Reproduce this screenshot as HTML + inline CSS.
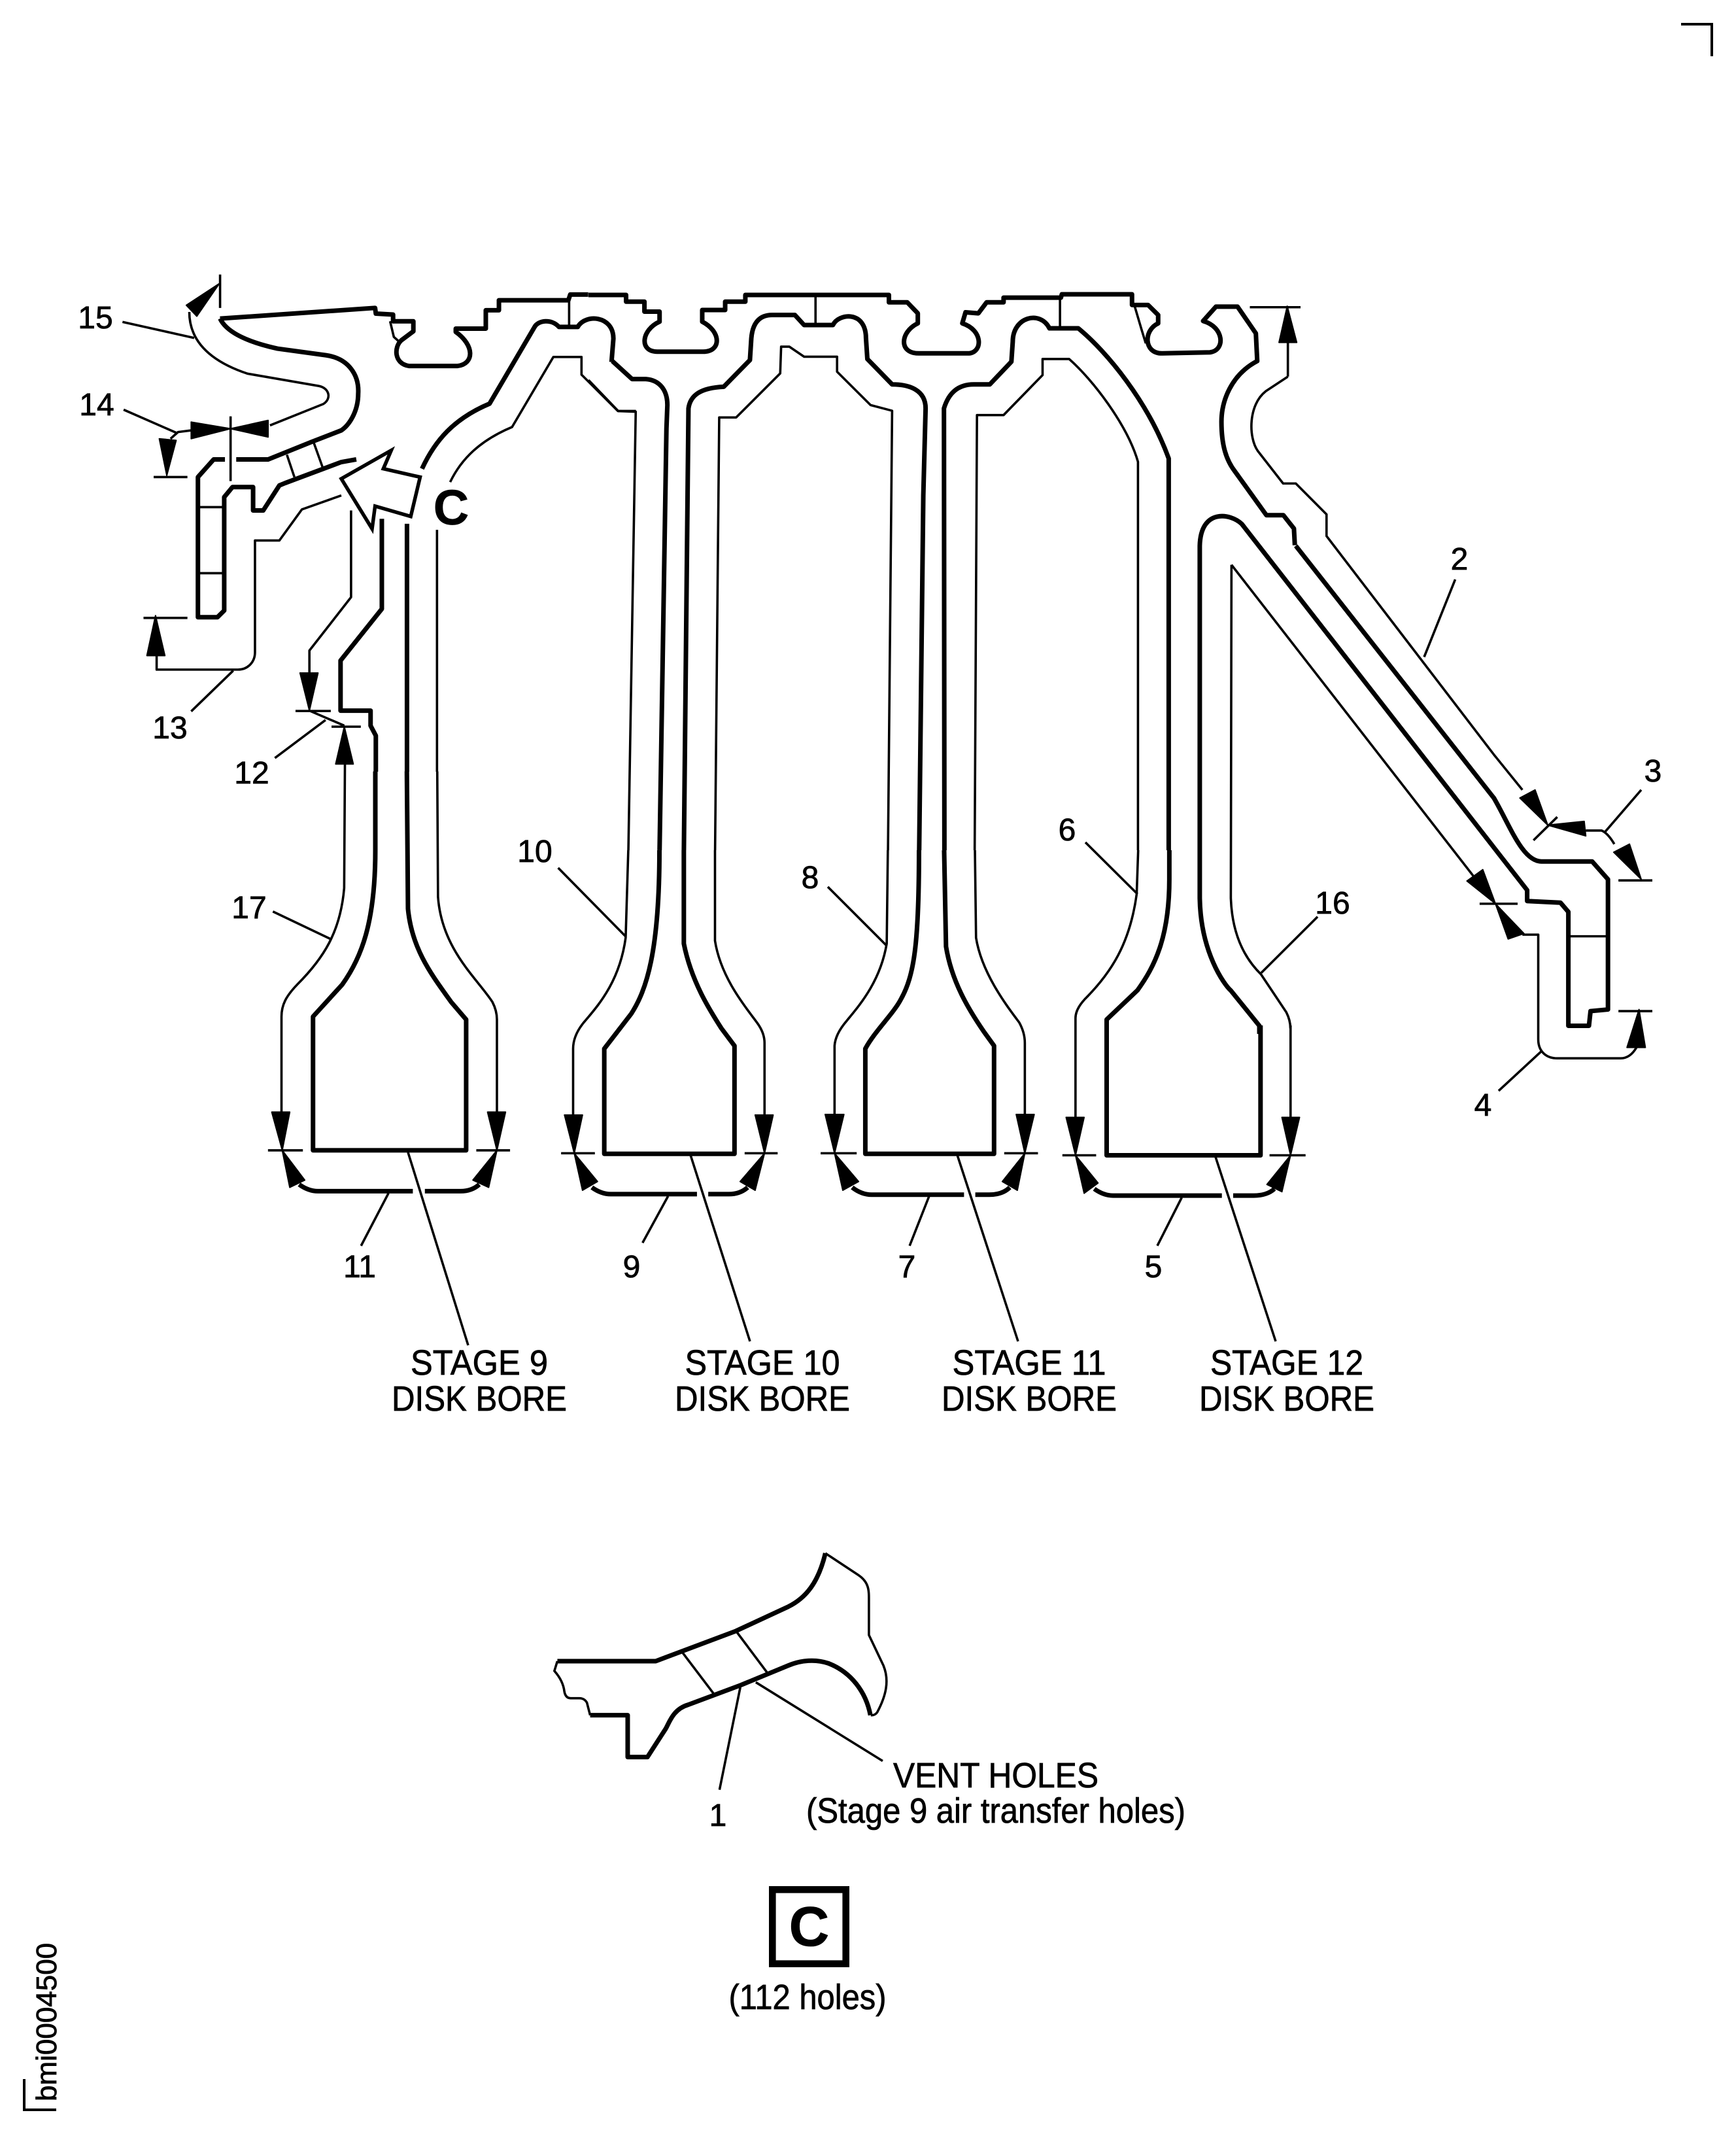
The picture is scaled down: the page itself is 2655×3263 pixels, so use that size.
<!DOCTYPE html>
<html><head><meta charset="utf-8"><title>Stage 9 air transfer diagram</title>
<style>
html,body{margin:0;padding:0;background:#fff;width:2655px;height:3263px;overflow:hidden}
svg{display:block}
path{vector-effect:non-scaling-stroke;fill:none;stroke:#000;stroke-linejoin:round;stroke-linecap:butt}
.k{stroke-width:7}
.t{stroke-width:3.6}
.f{fill:#000;stroke:#000;stroke-width:2}
text{font-family:"Liberation Sans",Arial,sans-serif;fill:#000;stroke:#000;stroke-width:.8;font-size:48px}
.l{font-size:54px;text-anchor:middle}
.b{font-weight:bold}
.n{text-anchor:middle}
</style></head><body>
<svg xmlns="http://www.w3.org/2000/svg" width="2655" height="3263" viewBox="0 0 2655 3263">
<rect width="2655" height="3263" fill="#fff"/>

<!-- Z1 top-left -->
<g transform="translate(80 380) scale(.574 .5102)">
<path class="k" d="M447 210L860 178 862 195 908 198 908 218 962 218 962 248 930 275C910 295 910 345 950 352L1080 352C1125 345 1125 290 1075 250L1075 240 1155 240 1155 185 1190 185 1190 155 1375 155 1380 138 1428 138"/>
<path class="k" d="M447 210C470 265 560 290 600 300L730 320C790 330 818 380 815 435C815 490 790 530 770 545L690 580 575 632 490 632"/>
<path class="k" d="M460 632L430 632 388 685 388 1105 440 1105 458 1085 458 745 480 715 535 715 535 785 562 785 605 710 620 703 770 640 810 632"/>
<path class="k" d="M985 660C1020 575 1070 510 1165 465L1285 235C1295 215 1330 210 1350 235L1400 235C1420 195 1495 200 1495 270L1490 340"/>
<path class="k" d="M945 825L945 1568"/>
<path class="k" d="M878 810L878 1080 768 1235 768 1385 848 1385 848 1430 862 1460 862 1568"/>
<path class="t" d="M1025 843L1025 1568M1060 700C1090 630 1140 575 1225 535L1335 325 1410 325 1410 378 1507 487 1555 487"/>
<path class="t" d="M900 218L910 265 925 280M1377 155L1377 230"/>
<path class="t" d="M365 190C365 260 400 330 520 375L710 412C738 418 745 450 722 466L580 530"/>
<path class="f" d="M357 170L445 105 385 203Z"/>
<path class="t" d="M447 78L447 178M187 220L378 268M190 483L330 552"/>
<path class="f" d="M370 520L475 540 370 570ZM575 515L475 540 575 565ZM285 570L330 575 305 680Z"/>
<path class="t" d="M475 503L475 697M370 545L335 550 315 570M270 685L360 685"/>
<path class="t" d="M625 618L645 685M697 583L720 655M388 775L458 775M388 973L458 973"/>
<path class="t" d="M770 740L665 782 605 875 540 875 540 1210C540 1240 520 1262 495 1262L278 1262 278 1220M243 1107L360 1107M370 1387L482 1265"/>
<path class="f" d="M252 1220L300 1220 275 1100Z"/>
<path class="t" d="M796 785L796 1045 685 1205 685 1272M648 1386L742 1386M744 1433L822 1433M593 1527L728 1413M685 1385L778 1430"/>
<path class="f" d="M660 1272L708 1272 685 1385ZM778 1433L755 1545 802 1545Z"/>
<path d="M770 690L903 605 882 660 980 685 955 803 860 772 852 840Z" style="fill:#fff;stroke-width:5.5;stroke-linejoin:miter"/>
</g>

<!-- Z2 top-center -->
<g transform="translate(900 400) scale(.7015 .5102)">
<path class="k" d="M0 100H82V120H122V150H155V180C115 205 110 270 150 270L250 270C290 270 290 210 248 180V145H298V120H342V100H655V122H695L718 155V185C680 210 675 275 720 275H830C860 270 860 205 815 185L822 152 850 155 868 122H905V108H1030L1032 98H1185V130H1220L1242 160V185C1210 205 1210 275 1250 275L1355 272C1390 265 1385 195 1340 178L1368 135H1415L1455 215 1458 298C1400 340 1380 420 1380 480C1380 550 1390 595 1410 630L1478 760H1515L1538 800 1540 850"/>
<path class="k" d="M52 298L95 352H125C155 355 172 385 172 430L170 500 155 1764"/>
<path class="k" d="M208 1764L218 440C222 400 245 378 295 375L352 295 355 230C358 180 375 160 400 160L450 160 470 190H533C545 155 605 145 605 230L608 292 662 368C700 368 735 385 735 440L730 700 721 1764"/>
<path class="k" d="M776 1764L775 440C785 395 805 368 840 368H875L922 300 925 240C925 165 985 145 1005 200H1068C1130 270 1220 420 1265 590V1764"/>
<path class="t" d="M0 355L65 448 103 450 87 1764"/>
<path class="t" d="M276 1764L285 467 322 467 418 335 420 255 438 255 470 285 542 285 542 330 615 430 662 447 653 1764"/>
<path class="t" d="M842 1764L847 460 905 460 990 340 990 292 1048 292C1100 355 1175 490 1198 600V1764"/>
<path class="t" d="M495 105L495 185M1028 108L1028 195M1190 130L1205 200 1215 245"/>
</g>

<!-- Z3 right -->
<g transform="translate(1800 420) scale(.4847 .8292)">
<path class="k" d="M375 500L1000 965C1050 1015 1090 1082 1150 1082H1310L1360 1115V1355L1305 1358 1300 1385H1235V1175L1210 1158 1105 1155V1135L205 460C170 440 75 430 72 500L72 1150C75 1250 150 1310 170 1320L260 1385V1400"/>
<path class="t" d="M350 188L350 125M230 60L390 60"/>
<path class="f" d="M322 125L378 125 348 58Z"/>
<path class="t" d="M350 188L280 215C225 240 225 300 255 325L335 385H375L472 442V482L1000 885 1090 950M878 562L780 705M1125 1043L1200 1000"/>
<path class="f" d="M1082 965L1130 950 1170 1015ZM1170 1015L1285 1008 1290 1035ZM1378 1065L1428 1050 1465 1115Z"/>
<path class="t" d="M1290 1025H1340Q1360 1030 1380 1050M1393 1117L1500 1117M1465 950L1350 1028M1235 1220L1360 1220"/>
<path class="t" d="M172 535L950 1120M172 535L170 1150C175 1230 230 1270 265 1290L345 1360Q358 1375 358 1390"/>
<path class="f" d="M915 1118L965 1097 1005 1160ZM1005 1160L1095 1215 1045 1225ZM1420 1425L1478 1425 1458 1355Z"/>
<path class="t" d="M955 1160L1075 1160M1090 1217L1140 1217 1140 1410C1140 1435 1170 1445 1200 1445H1400Q1430 1445 1450 1425M1393 1358L1500 1358M1015 1505L1150 1432"/>
</g>

<!-- Z4 stage 9, 10 bores -->
<g transform="translate(380 1300) scale(.574 .4464)">
<path class="k" d="M422 -270L425 200C435 340 490 430 540 520L580 580V1028H172V570L250 460C300 370 338 250 338 0V-270"/>
<path class="t" d="M257 -296L255 130C245 280 200 370 130 460C100 500 88 530 88 570V895"/>
<path class="t" d="M503 -270L505 160C515 340 610 440 650 520Q662 550 662 580V895"/>
<path class="f" d="M62 897L110 897 90 1028ZM90 1028L150 1130 110 1155ZM637 897L685 897 662 1028ZM662 1028L640 1155 598 1130Z"/>
<path class="t" d="M52 1028L145 1028M607 1028L697 1028"/>
<path class="k" d="M135 1145Q160 1168 185 1168H438M470 1168H565Q595 1168 615 1145"/>
<path class="t" d="M373 1175L300 1355M65 210L220 305"/>
<path class="k" d="M1160 0V320C1180 450 1230 550 1260 610L1295 670V1040H948V680L1020 560C1060 480 1095 350 1095 0"/>
<path class="t" d="M1012 0L1005 300C990 440 940 520 900 580Q865 630 865 680V905"/>
<path class="t" d="M1243 0V310C1260 450 1340 560 1360 600Q1375 630 1375 660V905"/>
<path class="f" d="M842 907L890 907 868 1038ZM868 1038L930 1135 890 1165ZM1350 907L1398 907 1375 1038ZM1375 1038L1350 1165 1310 1135Z"/>
<path class="t" d="M833 1038L923 1038M1322 1038L1410 1038"/>
<path class="k" d="M915 1155Q940 1178 965 1178H1195M1225 1178H1280Q1310 1178 1330 1155"/>
<path class="t" d="M1118 1185L1050 1345"/>
</g>

<!-- Z5 stage 11, 12 bores -->
<g transform="translate(1200 1300) scale(.574 .4464)">
<path class="k" d="M425 0L430 330C445 450 490 545 530 620L558 670V1040H215V680C240 620 290 560 310 510C345 430 358 320 358 0"/>
<path class="t" d="M275 0L272 320C255 450 200 530 165 585Q135 630 133 670V905"/>
<path class="t" d="M507 0L510 300C525 420 590 530 625 590Q640 625 640 660V905"/>
<path class="f" d="M108 905L158 905 133 1038ZM133 1038L197 1135 155 1165ZM617 905L665 905 640 1038ZM640 1038L620 1165 580 1135Z"/>
<path class="t" d="M96 1038L192 1038M585 1038L675 1038"/>
<path class="k" d="M180 1155Q205 1180 232 1180H478M508 1180H545Q580 1180 600 1155"/>
<path class="t" d="M385 1185L333 1355"/>
<path class="k" d="M1268 600V1045H858V580L940 480C985 400 1025 300 1025 100V0"/>
<path class="t" d="M942 0L938 150C920 320 870 420 800 510Q775 545 775 575V915"/>
<path class="t" d="M1348 600V915"/>
<path class="f" d="M750 915L798 915 775 1045ZM775 1045L835 1140 798 1175ZM1325 915L1372 915 1348 1045ZM1348 1045L1325 1170 1285 1145Z"/>
<path class="t" d="M740 1045L830 1045M1292 1045L1388 1045"/>
<path class="k" d="M825 1160Q850 1183 875 1183H1165M1195 1183H1250Q1285 1183 1305 1160"/>
<path class="t" d="M1058 1190L993 1355M1420 228L1270 420"/>
</g>

<!-- Long leaders (root coords) -->
<path class="t" d="M624 1762L716 2057M1056 1766L1147 2051M1464 1766L1557 2051M1859 1769L1951 2051"/>
<path class="t" d="M1660 1288L1739.6 1367M1266 1356L1355 1445M853.6 1327L957 1432"/>

<!-- Z6 inset -->
<g transform="translate(800 2340) scale(.3827 .3333)">
<path class="k" d="M137 600H530L850 462 1060 350C1130 310 1180 240 1208 105"/>
<path class="t" d="M1208 105L1340 205C1385 240 1382 280 1382 330V480L1440 620C1465 690 1450 760 1415 835Q1405 850 1390 848"/>
<path class="k" d="M1388 848C1370 740 1310 650 1220 610C1170 590 1110 595 1060 620L870 710 660 800C600 820 585 880 570 910L497 1040H418V848H268"/>
<path class="t" d="M268 848L255 790Q245 770 225 770H190Q170 770 165 740Q160 690 125 645L137 600"/>
<path class="t" d="M638 562L762 750M853 465L975 652M868 720L785 1190M930 697L1437 1058"/>
</g>

<!-- Corner marks -->
<path d="M2571 37L2618 37 2618 86" style="stroke-width:4;stroke-linejoin:miter"/>
<path d="M37 3179L37 3226 86 3226" style="stroke-width:4;stroke-linejoin:miter"/>
<text transform="translate(86 3213) rotate(-90)" style="font-size:44px">bmi0004500</text>

<!-- Detail box C -->
<rect x="1181.3" y="2889.3" width="112.4" height="113.4" fill="none" stroke="#000" stroke-width="10.6"/>
<text class="b n" x="1237.5" y="2975" style="font-size:85px">C</text>
<text class="b n" x="690" y="802" style="font-size:75px">C</text>

<!-- Number labels -->
<text class="n" x="2232" y="871">2</text>
<text class="n" x="2528" y="1195">3</text>
<text class="n" x="2268" y="1706">4</text>
<text class="n" x="1764" y="1953">5</text>
<text class="n" x="1632" y="1285">6</text>
<text class="n" x="1387" y="1953">7</text>
<text class="n" x="1239" y="1358">8</text>
<text class="n" x="966" y="1953">9</text>
<text class="n" x="818" y="1318">10</text>
<text class="n" x="550" y="1953">11</text>
<text class="n" x="385" y="1198">12</text>
<text class="n" x="260" y="1129">13</text>
<text class="n" x="148" y="635">14</text>
<text class="n" x="146" y="502">15</text>
<text class="n" x="2038" y="1397">16</text>
<text class="n" x="381" y="1404">17</text>
<text class="n" x="1098" y="2792">1</text>

<!-- Stage labels -->
<text class="l" x="733" y="2102" textLength="210" lengthAdjust="spacingAndGlyphs">STAGE 9</text>
<text class="l" x="733" y="2157" textLength="268" lengthAdjust="spacingAndGlyphs">DISK BORE</text>
<text class="l" x="1166" y="2102" textLength="237" lengthAdjust="spacingAndGlyphs">STAGE 10</text>
<text class="l" x="1166" y="2157" textLength="268" lengthAdjust="spacingAndGlyphs">DISK BORE</text>
<text class="l" x="1574" y="2102" textLength="235" lengthAdjust="spacingAndGlyphs">STAGE 11</text>
<text class="l" x="1574" y="2157" textLength="268" lengthAdjust="spacingAndGlyphs">DISK BORE</text>
<text class="l" x="1968" y="2102" textLength="234" lengthAdjust="spacingAndGlyphs">STAGE 12</text>
<text class="l" x="1968" y="2157" textLength="268" lengthAdjust="spacingAndGlyphs">DISK BORE</text>

<text class="l" x="1523" y="2733" textLength="314" lengthAdjust="spacingAndGlyphs">VENT HOLES</text>
<text class="l" x="1523" y="2787" textLength="580" lengthAdjust="spacingAndGlyphs">(Stage 9 air transfer holes)</text>
<text class="l" x="1235" y="3072" textLength="241" lengthAdjust="spacingAndGlyphs">(112 holes)</text>
</svg>
</body></html>
